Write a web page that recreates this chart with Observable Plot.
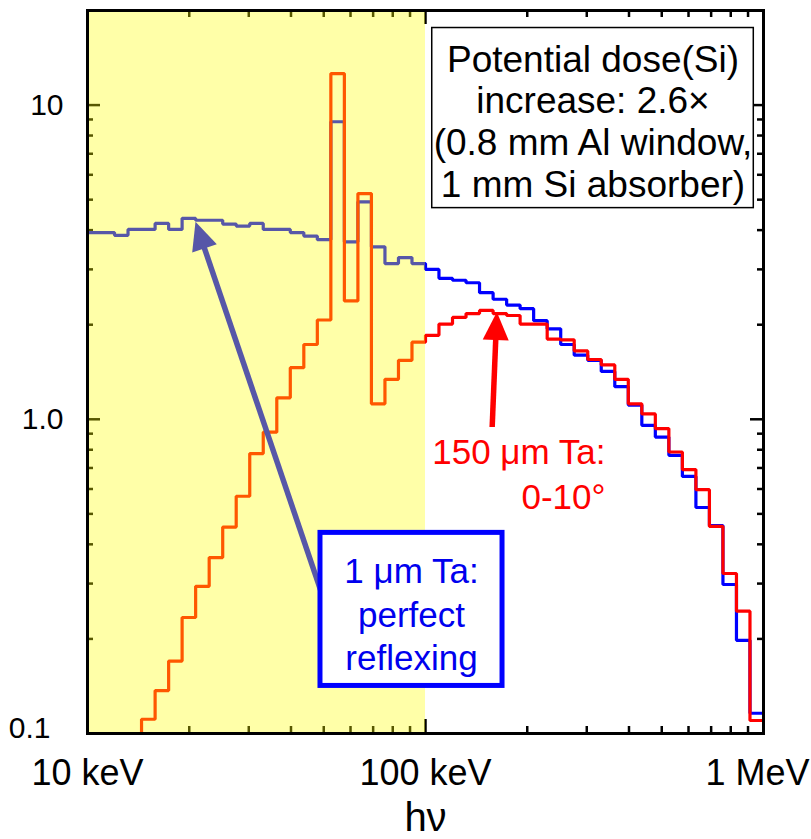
<!DOCTYPE html>
<html><head><meta charset="utf-8">
<script src="https://cdn.jsdelivr.net/npm/d3@7"></script>
<script src="https://cdn.jsdelivr.net/npm/@observablehq/plot@0.6"></script>
<style>body{margin:0;background:#fff}</style>
</head><body><div id="chart"></div>
<script>
// Energy bin edges (keV), 25 log bins per decade, 10 keV – 1 MeV
const binEdges = [10.00,10.96,12.02,13.18,14.45,15.85,17.38,19.05,20.89,22.91,
  25.12,27.54,30.20,33.11,36.31,39.81,43.65,47.86,52.48,57.54,
  63.10,69.18,75.86,83.18,91.20,100.0,109.6,120.2,131.8,144.5,
  158.5,173.8,190.5,208.9,229.1,251.2,275.4,302.0,331.1,363.1,
  398.1,436.5,478.6,524.8,575.4,631.0,691.8,758.6,831.8,912.0,1000];

// 1 µm Ta: perfect reflexing (blue)
const thinTa = [3.93,3.93,3.85,4.02,4.02,4.20,4.02,4.36,4.30,4.30,
  4.18,4.12,4.20,4.02,4.02,3.93,3.83,3.73,8.85,3.67,
  4.92,3.54,3.13,3.27,3.13,3.00,2.81,2.77,2.72,2.53,
  2.41,2.31,2.25,2.06,1.94,1.73,1.60,1.54,1.42,1.27,
  1.11,0.957,0.878,0.768,0.658,0.524,0.459,0.298,0.198,0.116];

// 150 µm Ta: 0-10° (red); first bins are below the 0.1 floor
const thickTa = [null,null,null,0.08,0.111,0.137,0.170,0.234,0.294,0.363,
  0.454,0.569,0.778,0.91,1.17,1.46,1.73,2.07,12.6,2.38,
  5.23,1.12,1.34,1.54,1.76,1.85,2.01,2.11,2.17,2.22,
  2.17,2.14,2.01,2.01,1.80,1.79,1.65,1.55,1.49,1.34,
  1.12,1.04,0.934,0.787,0.692,0.597,0.456,0.323,0.245,0.110];

const xTickValues = [10, 100, 1000];
const xTickLabels = ["10 keV", "100 keV", "1 MeV"];
const xMinorTicks = [20,30,40,50,60,70,80,90,200,300,400,500,600,700,800,900];
const xMajorTicks = [100];
const yTickValues = [10, 1];
const yTickLabels = ["10", "1.0"];
const yBottomTick = [0.1];
const yBottomLabel = ["0.1"];
const yMinorTicks = [0.2,0.3,0.4,0.5,0.6,0.7,0.8,0.9,2,3,4,5,6,7,8,9];
const yMajorTicks = [1, 10];

const shadedBand = [{x1: 10, x2: 100, y1: 0.1, y2: 20}];
const doseBox = [{x1: 104.7, x2: 936, y1: 4.70, y2: 17.59}];
const doseText = [{x: 313, y: 15.87, text: "Potential dose(Si)\nincrease: 2.6×\n(0.8 mm Al window,\n1 mm Si absorber)"}];
const thinBox = [{x1: 48.9, x2: 169, y1: 0.1417, y2: 0.435}];
const thinText = [{x: 90.9, y: 0.3777, text: "1 μm Ta:\nperfect\nreflexing"}];
const thickText = [{x: 340.8, y: 0.908, text: "150 μm Ta:\n0-10°"}];
const thinArrow = [{x1: 49.0, y1: 0.285, x2: 20.87, y2: 4.25}];
const thickArrow = [{x1: 157.5, y1: 0.945, x2: 162.6, y2: 2.196}];

function steps(vals) {
  const pts = [];
  vals.forEach((v, i) => { if (v != null) pts.push({x: binEdges[i], y: v}); });
  pts.push({x: binEdges[binEdges.length - 1], y: vals[vals.length - 1]});
  return pts;
}
const blueSteps = steps(thinTa);
const redSteps = steps(thickTa);

const W = 811, H = 839, mT = 10, mB = 106, mL = 87, mR = 48;
const plotH = H - mT - mB, plotW = W - mL - mR;
const font = "Liberation Sans, Arial, Helvetica, sans-serif";

const plot = Plot.plot({
  width: W, height: H,
  marginTop: mT, marginBottom: mB, marginLeft: mL, marginRight: mR,
  style: {fontFamily: font, background: "white", overflow: "visible"},
  x: {type: "log", domain: [10, 1000], axis: null},
  y: {type: "log", domain: [0.1, 20], axis: null},
  marks: [
    // inward ticks
    Plot.ruleX(xMinorTicks, {x: d => d, insetTop: plotH - 7, stroke: "black", strokeWidth: 2.5}),
    Plot.ruleX(xMinorTicks, {x: d => d, insetBottom: plotH - 7, stroke: "black", strokeWidth: 2.5}),
    Plot.ruleX(xMajorTicks, {x: d => d, insetTop: plotH - 14, stroke: "black", strokeWidth: 2.5}),
    Plot.ruleX(xMajorTicks, {x: d => d, insetBottom: plotH - 14, stroke: "black", strokeWidth: 2.5}),
    Plot.ruleY(yMinorTicks, {y: d => d, insetRight: plotW - 6, stroke: "black", strokeWidth: 2.5}),
    Plot.ruleY(yMinorTicks, {y: d => d, insetLeft: plotW - 6, stroke: "black", strokeWidth: 2.5}),
    Plot.ruleY(yMajorTicks, {y: d => d, insetRight: plotW - 13, stroke: "black", strokeWidth: 2.5}),
    Plot.ruleY(yMajorTicks, {y: d => d, insetLeft: plotW - 13, stroke: "black", strokeWidth: 2.5}),
    // spectra
    Plot.line(blueSteps, {x: "x", y: "y", curve: "step-after", stroke: "#0000ff", strokeWidth: 3.2, strokeLinejoin: "miter", clip: true}),
    Plot.line(redSteps, {x: "x", y: "y", curve: "step-after", stroke: "#ff0000", strokeWidth: 3.2, strokeLinejoin: "miter", clip: true}),
    // arrows
    Plot.link(thinArrow, {x1: "x1", y1: "y1", x2: "x2", y2: "y2", stroke: "#0000ff", strokeWidth: 5.5}),
    Plot.link(thickArrow, {x1: "x1", y1: "y1", x2: "x2", y2: "y2", stroke: "#ff0000", strokeWidth: 5.5}),
    // translucent yellow band 10–100 keV
    Plot.rect(shadedBand, {x1: "x1", x2: "x2", y1: "y1", y2: "y2", fill: "#ffff00", fillOpacity: 0.34}),
    Plot.frame({stroke: "black", strokeWidth: 3}),
    // annotation boxes
    Plot.rect(doseBox, {x1: "x1", x2: "x2", y1: "y1", y2: "y2", fill: "white", stroke: "black", strokeWidth: 1.5}),
    Plot.text(doseText, {x: "x", y: "y", text: "text", fontSize: 37, lineHeight: 1.127, lineAnchor: "top", fill: "black"}),
    Plot.rect(thinBox, {x1: "x1", x2: "x2", y1: "y1", y2: "y2", fill: "white", stroke: "#0000ff", strokeWidth: 5}),
    Plot.text(thinText, {x: "x", y: "y", text: "text", fontSize: 35, lineHeight: 1.243, lineAnchor: "top", fill: "#0000ee"}),
    Plot.text(thickText, {x: "x", y: "y", text: "text", fontSize: 35, lineHeight: 1.286, lineAnchor: "top", textAnchor: "end", fill: "#ff0000"}),
    // tick labels
    Plot.text(xTickValues, {x: d => d, text: (d, i) => xTickLabels[i], frameAnchor: "bottom", lineAnchor: "top", dy: 26, fontSize: 36, fill: "black"}),
    Plot.text(yTickValues, {y: d => d, text: (d, i) => yTickLabels[i], frameAnchor: "left", textAnchor: "end", dx: -24, fontSize: 30, fill: "black"}),
    Plot.text(yBottomTick, {y: d => d, text: (d, i) => yBottomLabel[i], frameAnchor: "left", textAnchor: "end", dx: -37, dy: -5, fontSize: 30, fill: "black"}),
    Plot.text(["hν"], {text: d => d, frameAnchor: "bottom", lineAnchor: "middle", dy: 85, fontSize: 40, fill: "black"})
  ]
});

// Keep the "1 MeV" label inside the page
plot.querySelectorAll('g[aria-label="text"] text').forEach(t => {
  if (t.textContent === "1 MeV") {
    const tr = t.getAttribute("transform") || "";
    t.setAttribute("transform", tr + " translate(-6,0)");
  }
});

// Replace link ends with filled arrowheads
const ns = "http://www.w3.org/2000/svg";
plot.querySelectorAll('g[aria-label="link"] path').forEach(p => {
  const n = (p.getAttribute("d").match(/-?\d*\.?\d+(?:e-?\d+)?/g) || []).map(Number);
  if (n.length < 4) return;
  const [x1, y1] = n, x2 = n[n.length - 2], y2 = n[n.length - 1];
  const dx = x2 - x1, dy = y2 - y1, len = Math.hypot(dx, dy), ux = dx / len, uy = dy / len;
  const L = 28, Wd = 13;
  const bx = x2 - ux * L, by = y2 - uy * L;
  p.setAttribute("d", `M${x1},${y1}L${bx + ux * 3},${by + uy * 3}`);
  const color = p.getAttribute("stroke") || p.parentNode.getAttribute("stroke");
  const tri = document.createElementNS(ns, "path");
  tri.setAttribute("d", `M${x2},${y2}L${bx - uy * Wd},${by + ux * Wd}L${bx + uy * Wd},${by - ux * Wd}Z`);
  tri.setAttribute("fill", color);
  tri.setAttribute("stroke", "none");
  p.parentNode.appendChild(tri);
});

document.getElementById("chart").appendChild(plot);
</script>
</body></html>
